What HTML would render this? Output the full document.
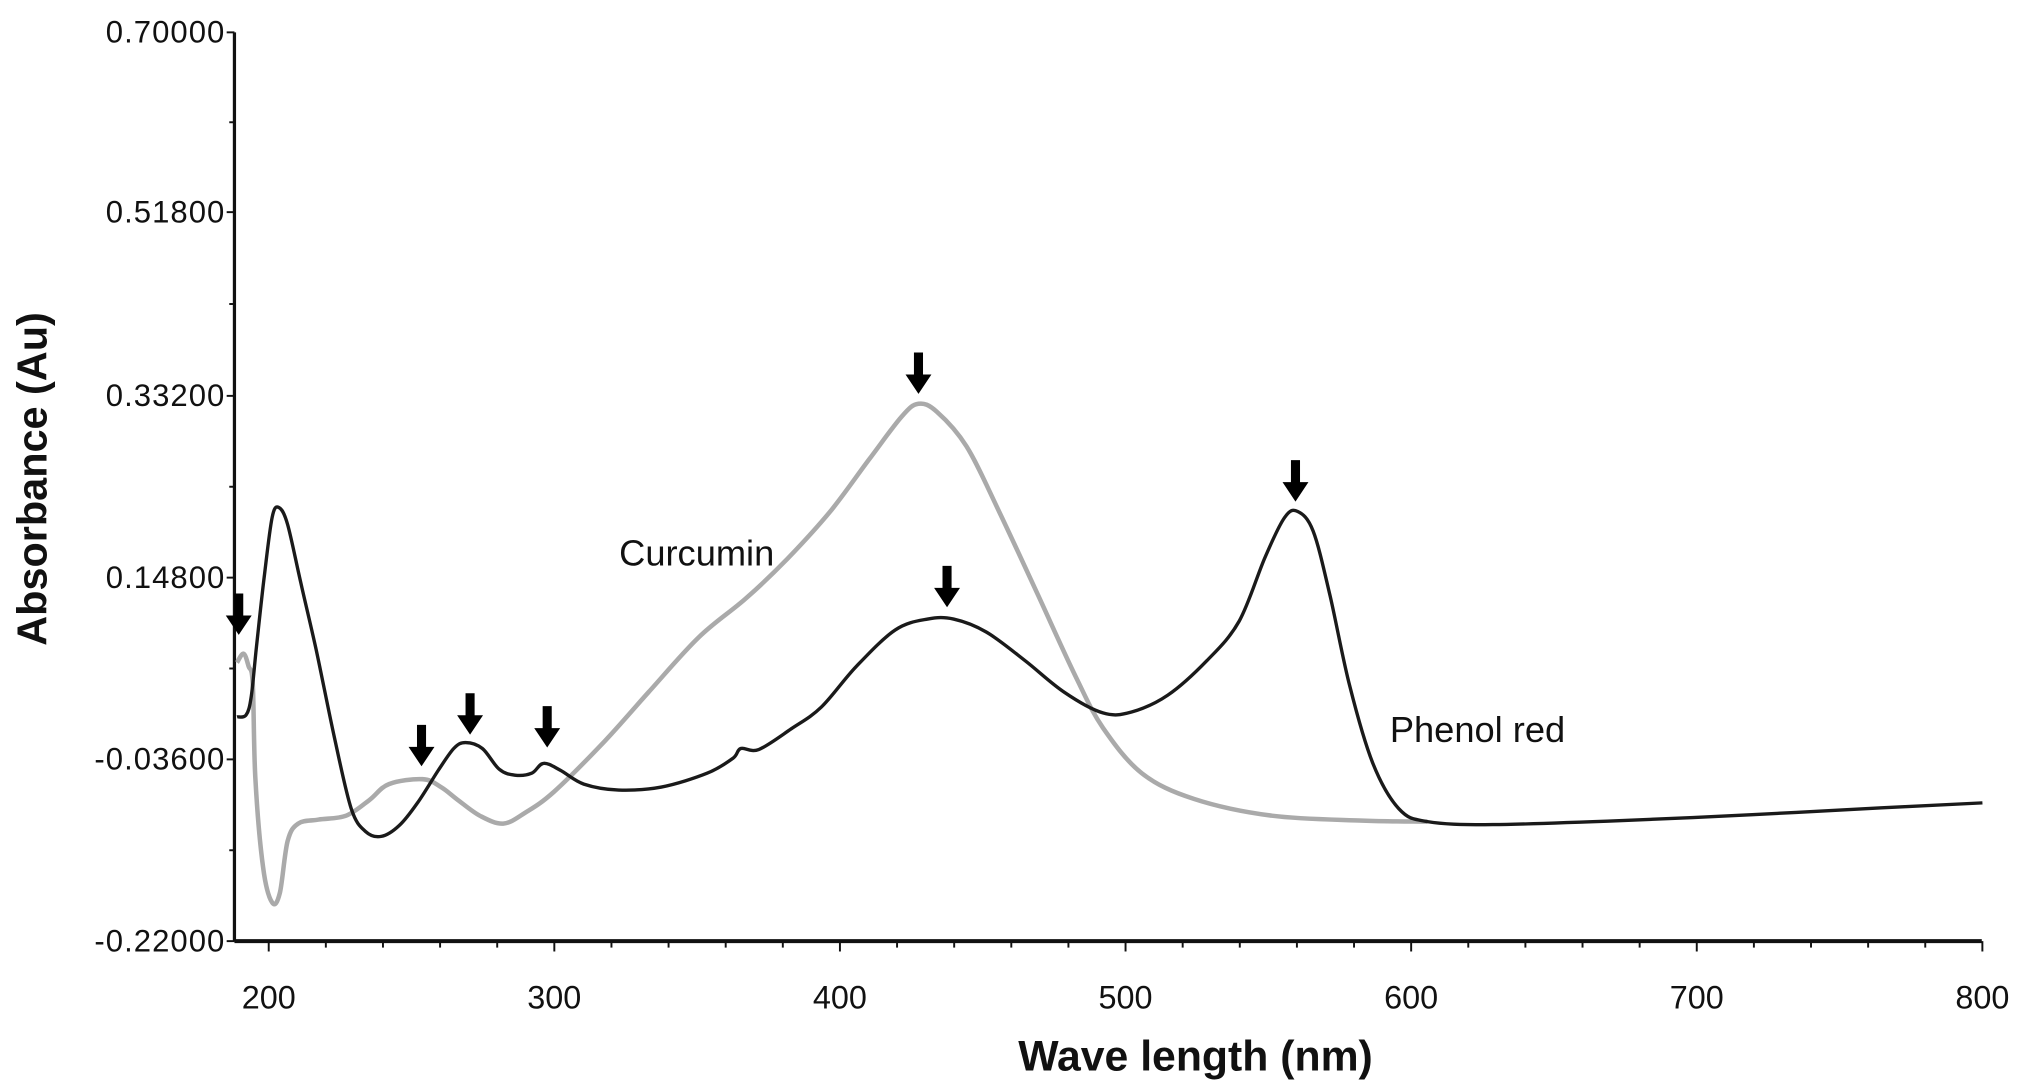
<!DOCTYPE html>
<html><head><meta charset="utf-8"><style>
html,body{margin:0;padding:0;background:#fff;}
svg{display:block;}
text{font-family:"Liberation Sans",sans-serif;fill:#111;}
</style></head><body>
<svg id="chart" width="2031" height="1090" viewBox="0 0 1568 842" preserveAspectRatio="none" xmlns="http://www.w3.org/2000/svg">
<g id="axes"></g>
<g id="series"></g>
<g id="arrows"></g>
<text x="478" y="437" font-size="28">Curcumin</text>
<text x="1073" y="573" font-size="28">Phenol red</text>
<text x="923" y="827" font-size="33" font-weight="bold" text-anchor="middle">Wave length (nm)</text>
<text transform="translate(36,370) rotate(-90)" font-size="32" font-weight="bold" text-anchor="middle">Absorbance (Au)</text>
</svg>
<script>
const xTicks = [200,300,400,500,600,700,800];
const yTicks = [0.70,0.518,0.332,0.148,-0.036,-0.22];
const yTickLabels = ["0.70000","0.51800","0.33200","0.14800","-0.03600","-0.22000"];
const phenolNm = [188.9,192.1,193.9,195.7,198.5,201.2,203.5,206.6,211.2,216.6,223.0,228.9,233.9,239.4,245.7,252.1,259.4,264.8,268.9,274.8,280.7,286.2,292.1,296.2,302.1,310.3,322.5,337.5,353.5,362.5,365.3,371.6,383.0,393.5,405.7,419.4,430.7,439.8,451.2,464.8,478.5,492.1,502.1,514.8,528.5,539.8,548.9,555.7,560.3,565.7,571.6,578.5,586.6,595.7,605.7,628.5,673.9,719.4,764.8,800];
const phenolAbs = [0.007,0.009,0.028,0.078,0.151,0.209,0.219,0.202,0.143,0.075,-0.014,-0.086,-0.109,-0.114,-0.103,-0.080,-0.047,-0.025,-0.019,-0.025,-0.046,-0.052,-0.050,-0.040,-0.047,-0.061,-0.067,-0.064,-0.050,-0.035,-0.025,-0.026,-0.005,0.017,0.058,0.095,0.106,0.106,0.093,0.064,0.032,0.011,0.012,0.029,0.064,0.104,0.169,0.209,0.215,0.195,0.130,0.038,-0.040,-0.086,-0.099,-0.102,-0.098,-0.092,-0.085,-0.080];
const curcNm = [188.9,191.2,193.0,194.4,195.3,198.0,201.2,203.9,206.6,210.3,217.5,227.1,235.3,242.1,253.9,260.3,266.2,273.9,282.1,289.8,299.8,317.5,333.0,350.7,367.1,381.6,396.6,410.3,421.6,427.5,433.9,444.3,455.7,469.4,483.0,492.1,505.7,523.9,551.2,583.0,605.7];
const curcAbs = [0.062,0.071,0.058,0.041,-0.054,-0.145,-0.181,-0.171,-0.119,-0.101,-0.097,-0.093,-0.077,-0.061,-0.056,-0.064,-0.077,-0.093,-0.101,-0.090,-0.069,-0.018,0.032,0.088,0.127,0.167,0.215,0.268,0.311,0.324,0.316,0.281,0.215,0.130,0.045,-0.004,-0.050,-0.076,-0.093,-0.098,-0.099];
const arrowNm = [189.5,253.5,270.5,297.5,427.5,437.5,559.5];
const arrowAbs = [0.090,-0.043,-0.011,-0.024,0.334,0.118,0.225];

const NS="http://www.w3.org/2000/svg";
const X0=181,XR=1530,Y0=727,YT=25;
function xs(nm){return X0+(nm-188)*2.205;}
function ys(a){return Y0-(a-(-0.22))/(0.92)*(Y0-YT);}
function mk(tag,attrs,parent){const e=document.createElementNS(NS,tag);for(const k in attrs)e.setAttribute(k,attrs[k]);parent.appendChild(e);return e;}
const axes=document.getElementById('axes');
let e=mk('line',{x1:X0,y1:YT,x2:X0,y2:Y0,stroke:'#111','stroke-width':2.5},axes);


e=mk('line',{x1:X0,y1:Y0,x2:XR,y2:Y0,stroke:'#111','stroke-width':3},axes);


for(let nm=200;nm<=800;nm+=20){
  const major=nm%100===0;
  e=mk('line',{x1:xs(nm),y1:Y0,x2:xs(nm),y2:Y0+(major?8:5),stroke:'#111','stroke-width':1.5},axes);
  
  
}
xTicks.forEach(v=>{
  e=mk('text',{x:xs(v),y:779,'font-size':25,'text-anchor':'middle'},axes);e.textContent=v;
  
  
});
yTicks.forEach((v,i)=>{
  e=mk('line',{x1:X0-6,y1:ys(v),x2:X0,y2:ys(v),stroke:'#111','stroke-width':1.5},axes);
  
  
  e=mk('text',{x:X0-7,y:ys(v)+8,'font-size':24,'text-anchor':'end','letter-spacing':0.8},axes);e.textContent=yTickLabels[i];
  
  
  if(i<yTicks.length-1){
    const m=(v+yTicks[i+1])/2;
    e=mk('line',{x1:X0-4,y1:ys(m),x2:X0,y2:ys(m),stroke:'#111','stroke-width':1.5},axes);
    
    
  }
});
function smooth(nx,ay){
  const p=nx.map((n,i)=>[xs(n),ys(ay[i])]);
  let d='M'+p[0][0].toFixed(1)+','+p[0][1].toFixed(1);
  for(let i=0;i<p.length-1;i++){
    const a=p[i-1]||p[i],b=p[i],c=p[i+1],f=p[i+2]||c;
    const c1=[b[0]+(c[0]-a[0])/6,b[1]+(c[1]-a[1])/6],c2=[c[0]-(f[0]-b[0])/6,c[1]-(f[1]-b[1])/6];
    d+=' C'+c1.map(v=>v.toFixed(1))+' '+c2.map(v=>v.toFixed(1))+' '+c[0].toFixed(1)+','+c[1].toFixed(1);
  }
  return d;
}
const series=document.getElementById('series');
e=mk('path',{d:smooth(curcNm,curcAbs),fill:'none',stroke:'#aaaaaa','stroke-width':3.5,'stroke-linejoin':'round'},series);


e=mk('path',{d:smooth(phenolNm,phenolAbs),fill:'none',stroke:'#1a1a1a','stroke-width':2.6,'stroke-linejoin':'round'},series);


const arrows=document.getElementById('arrows');
arrowNm.forEach((n,i)=>{
  const x=xs(n),y=ys(arrowAbs[i]);
  e=mk('path',{d:`M${x-3.5},${y-32} L${x+3.5},${y-32} L${x+3.5},${y-15} L${x+10},${y-15} L${x},${y} L${x-10},${y-15} L${x-3.5},${y-15} Z`,fill:'#000'},arrows);
  
  
});
</script>
</body></html>
